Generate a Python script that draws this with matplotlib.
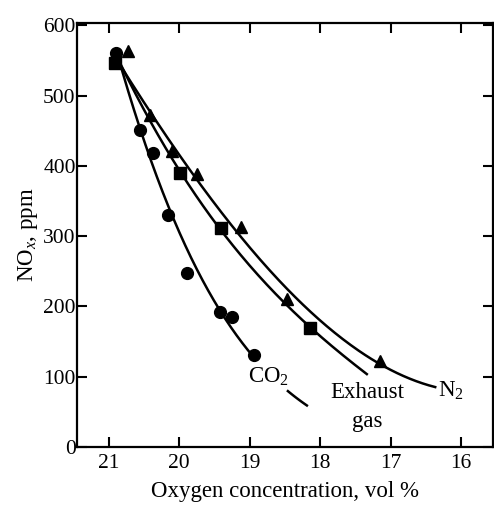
import numpy as np
import matplotlib
matplotlib.use("Agg")
import matplotlib.pyplot as plt

plt.rcParams['font.family'] = ['Liberation Serif', 'DejaVu Serif']
plt.rcParams['mathtext.fontset'] = 'custom'
plt.rcParams['mathtext.rm'] = 'Liberation Serif'
plt.rcParams['mathtext.it'] = 'Liberation Serif:italic'

# ---- data ----
co2_o2 = [20.9, 20.56, 20.375, 20.16, 19.89, 19.42, 19.25, 18.94]
co2_nox = [560, 451, 419, 330, 247, 192, 185, 131]

exh_o2 = [20.91, 19.99, 19.41, 18.14]
exh_nox = [546, 390, 311, 169]

n2_o2 = [20.73, 20.42, 20.1, 19.75, 19.13, 18.47, 17.15]
n2_nox = [564, 472, 421, 388, 313, 211, 122]

# curve guide points
co2_curve_o2 = [20.87, 20.56, 20.375, 20.16, 19.74, 19.41, 18.94, 18.19]
co2_curve_nox = [553, 452, 419, 331, 247, 192, 131, 58]
exh_curve_o2 = [20.87, 19.99, 19.41, 18.14, 17.34]
exh_curve_nox = [553, 390, 311, 169, 104]
n2_curve_o2 = [20.87, 20.42, 20.1, 19.75, 19.13, 18.47, 17.15, 16.37]
n2_curve_nox = [553, 472, 421, 388, 313, 211, 122, 84]

x_ticks = [21, 20, 19, 18, 17, 16]
y_ticks = [0, 100, 200, 300, 400, 500, 600]

fig = plt.figure(figsize=(4.94, 5.05), dpi=100)
ax = fig.add_axes([0.156, 0.115, 0.842, 0.839])


def smooth(xs, ys, deg=3, n=200):
    p = np.polyfit(xs, ys, deg)
    xx = np.linspace(min(xs), max(xs), n)
    return xx, np.polyval(p, xx)


# CO2 curve, broken by its label
xx, yy = smooth(co2_curve_o2, co2_curve_nox)
gap_lo, gap_hi = 18.47, 18.94
mask1 = xx >= gap_hi
mask2 = xx <= gap_lo
ax.plot(xx[mask1], yy[mask1], color='black', lw=1.8)
ax.plot(xx[mask2], yy[mask2], color='black', lw=1.8)

xx, yy = smooth(exh_curve_o2, exh_curve_nox)
ax.plot(xx, yy, color='black', lw=1.8)
xx, yy = smooth(n2_curve_o2, n2_curve_nox)
ax.plot(xx, yy, color='black', lw=1.8)

ax.plot(co2_o2, co2_nox, 'o', color='black', ms=8.5)
ax.plot(exh_o2, exh_nox, 's', color='black', ms=8)
ax.plot(n2_o2, n2_nox, '^', color='black', ms=8.5)

ax.set_xlim(21.45, 15.55)
ax.set_ylim(0, 603)
ax.set_xticks(x_ticks)
ax.set_yticks(y_ticks)
ax.set_xticklabels([str(t) for t in x_ticks], fontsize=15.5)
ax.set_yticklabels([str(t) for t in y_ticks], fontsize=15.5)
ax.tick_params(direction='in', length=7, width=1.5, top=True, right=True,
               labelright=False, labeltop=False, pad=1)
ax.tick_params(axis='x', pad=5)
for s in ax.spines.values():
    s.set_linewidth(1.6)

ax.set_xlabel('Oxygen concentration, vol %', fontsize=16.5, labelpad=6)
ax.set_ylabel(r'NO$_{\mathit{x}}$, ppm', fontsize=16.5, labelpad=2)

ax.text(18.74, 100, r'CO$_2$', fontsize=16.5, ha='center', va='center')
ax.text(17.34, 77, 'Exhaust', fontsize=16.5, ha='center', va='center')
ax.text(17.34, 36, 'gas', fontsize=16.5, ha='center', va='center')
ax.text(16.14, 80, r'N$_2$', fontsize=16.5, ha='center', va='center')

fig.savefig('out.png', dpi=100)
